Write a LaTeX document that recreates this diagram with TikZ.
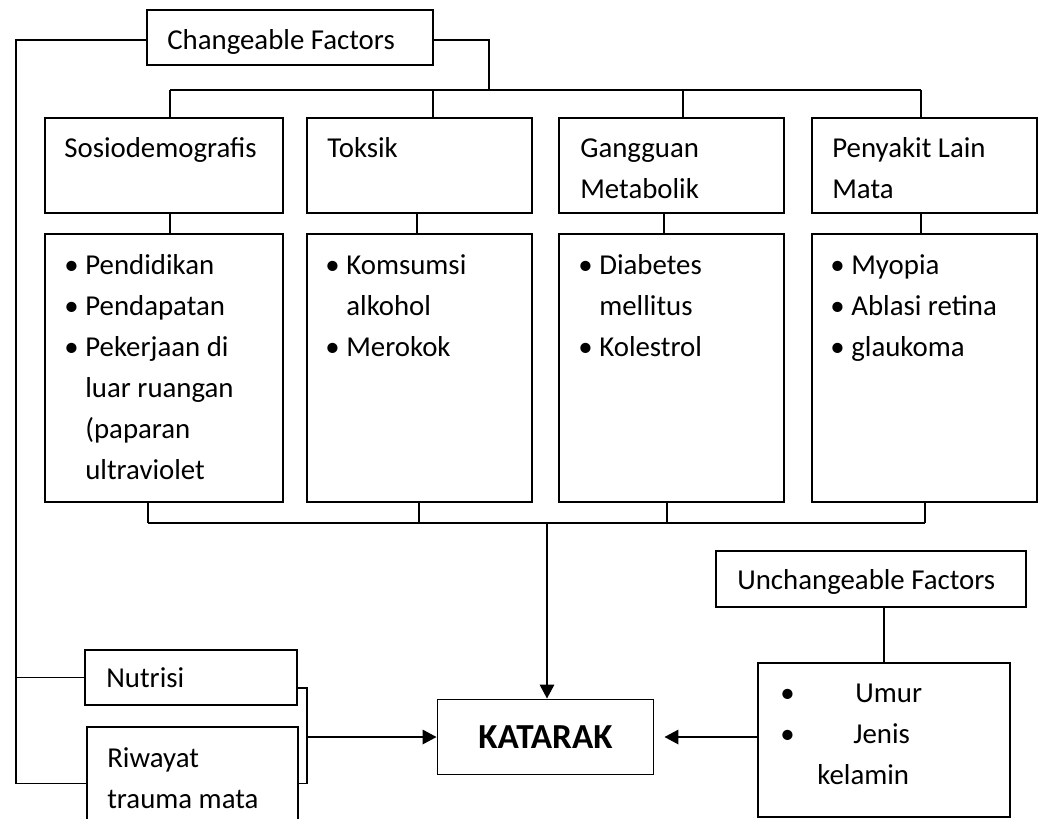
\documentclass[tikz,border=0pt]{standalone}
\usepackage{fontspec}
\setmainfont{Carlito}
\usetikzlibrary{arrows.meta,positioning}

\newcommand\pxl{0.025cm}
\newcommand\itm{\makebox[0.475cm][l]{\hspace*{-0.05cm}\textbullet}}
\newcommand\cont{\hspace*{0.475cm}}

\tikzset{
	box/.style 2 args={draw,line width=1.35pt,inner sep=0pt,minimum width=#1*\pxl,minimum height=#2*\pxl},
	txt/.style={anchor=north west,inner sep=0pt,align=left,font=\fontsize{20.5}{29.2}\selectfont},
	link/.style={line width=1.25pt},
	arr/.style={line width=1.5pt,-{Triangle[length=0.35cm,width=0.36cm]}}
}

\begin{document}
\begin{tikzpicture}[x=0.025cm,y=-0.025cm]
	\useasboundingbox (0,0) rectangle (1040,818);
	\clip (0,0) rectangle (1040,818);

	% factor boxes
	\node[box={286}{55}] (chg) at (290,37.5) {};
	\node[box={238}{95}] (sosio) at (164,165.5) {};
	\node[box={225}{95}] (toksik) at (419.5,165.5) {};
	\node[box={225}{95}] (metab) at (671.5,165.5) {};
	\node[box={225}{95}] (mata) at (924.5,165.5) {};
	\node[box={238}{268}] (sosioL) at (164,368) {};
	\node[box={225}{268}] (toksikL) at (419.5,368) {};
	\node[box={225}{268}] (metabL) at (671.5,368) {};
	\node[box={225}{268}] (mataL) at (924.5,368) {};
	\node[box={212}{55}] (nutri) at (191,677.5) {};
	\node[box={211}{113}] (trauma) at (192.5,783.5) {};
	\node[box={216}{75},font=\fontsize{25}{30}\selectfont\bfseries] (katarak) at (545.5,737) {KATARAK};
	\node[box={310}{56}] (unchg) at (871,579) {};
	\node[box={252}{154}] (unchgL) at (884,740) {};

	% texts
	\node[txt] (chgT) at ([shift={(21,11)}]chg.north west) {\strut Changeable Factors};
	\node[txt] (sosioT) at ([shift={(20,11)}]sosio.north west) {\strut Sosiodemografis};
	\node[txt] (toksikT) at ([shift={(21,11)}]toksik.north west) {\strut Toksik};
	\node[txt] (metabT) at ([shift={(22,11)}]metab.north west) {\strut Gangguan\\Metabolik};
	\node[txt] (mataT) at ([shift={(21,11)}]mata.north west) {\strut Penyakit Lain\\Mata};
	\node[txt] (sosioLT) at ([shift={(22,12)}]sosioL.north west)
		{\strut\itm Pendidikan\\\itm Pendapatan\\\itm Pekerjaan di\\\cont luar ruangan\\\cont (paparan\\\cont ultraviolet};
	\node[txt] (toksikLT) at ([shift={(21,12)}]toksikL.north west)
		{\strut\itm Komsumsi\\\cont alkohol\\\itm Merokok};
	\node[txt] (metabLT) at ([shift={(22,12)}]metabL.north west)
		{\strut\itm Diabetes\\\cont mellitus\\\itm Kolestrol};
	\node[txt] (mataLT) at ([shift={(21,12)}]mataL.north west)
		{\strut\itm Myopia\\\itm Ablasi retina\\\itm glaukoma};
	\node[txt] (nutriT) at ([shift={(22,9)}]nutri.north west) {\strut Nutrisi};
	\node[txt] (traumaT) at ([shift={(21,12)}]trauma.north west) {\strut Riwayat\\trauma mata};
	\node[txt] (unchgT) at ([shift={(22,10)}]unchg.north west) {\strut Unchangeable Factors};
	\node[txt] (unchgLT) at ([shift={(23,11)}]unchgL.north west)
		{\strut\makebox[1.875cm][l]{\textbullet}Umur\\\makebox[1.825cm][l]{\textbullet}Jenis\\\hspace*{0.925cm}kelamin};

	% changeable factors tree
	\coordinate (lft) at (16,40);
	\coordinate (busT) at (489,90);
	\coordinate (busB) at (547,523);
	\coordinate (brk) at (307,737);
	\draw[link] (chg.west |- lft) -- (lft) |- (trauma.west);
	\draw[link] (nutri.west) -- (nutri.west -| lft);
	\draw[link] (chg.east |- lft) -| (busT);
	\draw[link] ([xshift=6*\pxl]sosio.north |- busT) -- ([xshift=-3.5*\pxl]mata.north |- busT);
	\draw[link] ([xshift=-16*\pxl]sosioL.south |- busB) -- ([xshift=0.5*\pxl]mataL.south |- busB);
	\foreach \n/\t/\m/\b in {sosio/6/6/-16,toksik/13.5/-2.5/-0.5,metab/11.5/-7.5/-4.5,mata/-3.5/-3.5/0.5}{
		\draw[link] ([xshift=\t*\pxl]\n.north) -- ([xshift=\t*\pxl]\n.north |- busT);
		\draw[link] ([xshift=\m*\pxl]\n.south) -- ([xshift=\m*\pxl]\n L.north);
		\draw[link] ([xshift=\b*\pxl]\n L.south) -- ([xshift=\b*\pxl]\n L.south |- busB);
	}
	\draw[arr] (busB) -- (busB |- katarak.north);

	% nutrisi and trauma
	\draw[link] ([yshift=-10.5*\pxl]nutri.east) -| (brk |- trauma.east) -- (trauma.east);
	\draw[arr] (brk) -- (katarak.west);

	% unchangeable factors
	\draw[link] (unchgL.north |- unchg.south) -- (unchgL.north);
	\draw[arr,shorten >=0.25cm] (unchgL.west |- katarak.east) -- (katarak.east);
\end{tikzpicture}
\end{document}
